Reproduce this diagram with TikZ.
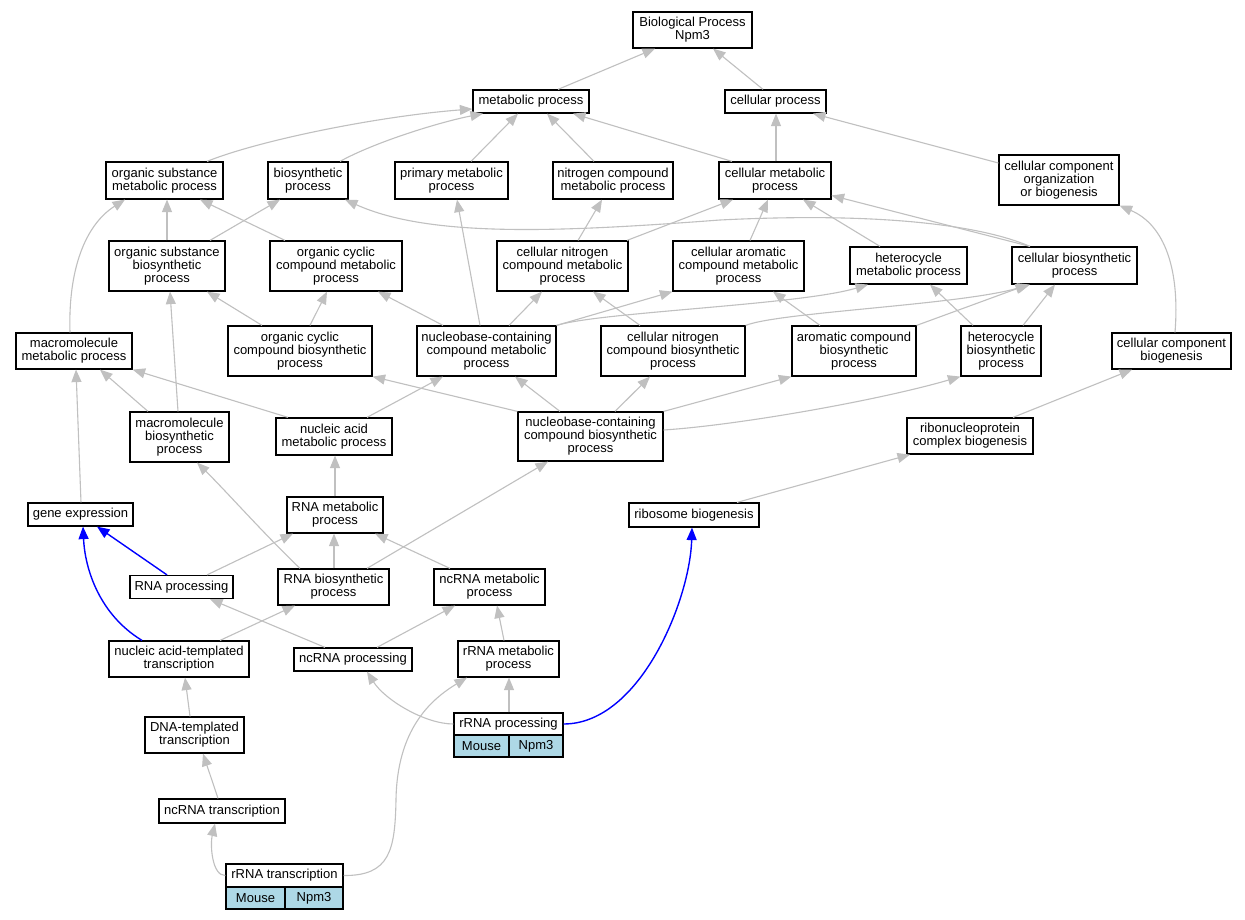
\documentclass[tikz,border=0pt]{standalone}
\usepackage{fontspec}
\setmainfont{Liberation Sans}
\usetikzlibrary{arrows.meta}
\definecolor{edgegray}{RGB}{192,192,192}
\definecolor{cellblue}{RGB}{173,216,230}
\newcommand\gnode[6]{\node[box, minimum width=#4pt, minimum height=#5pt] (#1) at (#2,#3) {#6};}
\newcommand\gcell[5]{\node[box, fill=cellblue, minimum width=#4pt, minimum height=22pt] (#1) at (#2,#3) {#5};}
\begin{document}
\begin{tikzpicture}[x=1pt,y=-1pt,
  box/.style={draw=black, line width=1.2pt, fill=white, inner sep=0pt, align=center, font=\fontsize{13}{13}\selectfont},
  edge/.style={draw=edgegray, line width=1.1pt, -{Triangle[length=12.5pt,width=10pt]}},
  bedge/.style={draw=blue, line width=1.4pt, -{Triangle[length=12.5pt,width=10pt]}}]
\fill[white] (0,0) rectangle (1245,920);
\useasboundingbox (0,0) rectangle (1245,920);
% nodes
\gnode{bp}{692.5}{30}{119}{36}{Biological Process\\Npm3}
\gnode{met}{531}{101.5}{116}{23}{metabolic process}
\gnode{cel}{775.5}{101.5}{101}{23}{cellular process}
\gnode{osm}{164.5}{180.5}{117}{37}{organic substance\\metabolic process}
\gnode{bio}{308}{180.5}{80}{37}{biosynthetic\\process}
\gnode{pri}{451.5}{180.5}{113}{37}{primary metabolic\\process}
\gnode{ncm}{613}{180.5}{120}{37}{nitrogen compound\\metabolic process}
\gnode{cmp}{775}{180.5}{112}{37}{cellular metabolic\\process}
\gnode{cco}{1059}{180}{120}{50}{cellular component\\organization\\or biogenesis}
\gnode{osb}{167}{266}{116}{50}{organic substance\\biosynthetic\\process}
\gnode{occm}{336}{266}{132}{50}{organic cyclic\\compound metabolic\\process}
\gnode{cncm}{562.5}{266}{131}{50}{cellular nitrogen\\compound metabolic\\process}
\gnode{cacm}{738.5}{266}{131}{50}{cellular aromatic\\compound metabolic\\process}
\gnode{hmp}{908.5}{265.5}{117}{37}{heterocycle\\metabolic process}
\gnode{cbp}{1074.5}{265.5}{125}{37}{cellular biosynthetic\\process}
\gnode{mmp}{74}{351}{116}{36}{macromolecule\\metabolic process}
\gnode{occb}{300}{351}{144}{50}{organic cyclic\\compound biosynthetic\\process}
\gnode{nbcm}{486.5}{351}{139}{50}{nucleobase-containing\\compound metabolic\\process}
\gnode{cncb}{673}{351}{144}{50}{cellular nitrogen\\compound biosynthetic\\process}
\gnode{acb}{854}{351}{124}{50}{aromatic compound\\biosynthetic\\process}
\gnode{hbp}{1001}{351}{80}{50}{heterocycle\\biosynthetic\\process}
\gnode{ccb}{1171.5}{351}{119}{36}{cellular component\\biogenesis}
\gnode{mbp}{179.5}{437}{99}{50}{macromolecule\\biosynthetic\\process}
\gnode{nam}{334}{436.5}{116}{37}{nucleic acid\\metabolic process}
\gnode{nbcb}{590.5}{436.5}{145}{49}{nucleobase-containing\\compound biosynthetic\\process}
\gnode{rnp}{970}{436}{126}{36}{ribonucleoprotein\\complex biogenesis}
\gnode{gex}{80.5}{514.5}{105}{23}{gene expression}
\gnode{rnam}{335}{515}{96}{36}{RNA metabolic\\process}
\gnode{ribo}{694}{515}{130}{24}{ribosome biogenesis}
\gnode{rnap}{181.5}{587}{103}{23}{RNA processing}
\gnode{rnab}{333.5}{587}{111}{36}{RNA biosynthetic\\process}
\gnode{ncrm}{489.5}{587}{111}{36}{ncRNA metabolic\\process}
\gnode{natt}{179}{659}{140}{36}{nucleic acid-templated\\transcription}
\gnode{ncrp}{353}{659.5}{118}{23}{ncRNA processing}
\gnode{rrm}{508.5}{659}{101}{36}{rRNA metabolic\\process}
\gnode{rrp}{508.5}{724}{109}{22}{rRNA processing}
\gcell{rrpa}{481.5}{746}{55}{Mouse}
\gcell{rrpb}{536}{746}{54}{Npm3}
\gnode{dnat}{194.5}{735}{99}{36}{DNA-templated\\transcription}
\gnode{ncrt}{222}{811}{126}{24}{ncRNA transcription}
\gnode{rrt}{284.5}{875.5}{117}{23}{rRNA transcription}
\gcell{rrta}{255.5}{898}{59}{Mouse}
\gcell{rrtb}{314}{898}{58}{Npm3}
% edges
\draw[edge] ([xshift=27pt]met.north) -- ([xshift=-37.5pt]bp.south);
\draw[edge] ([xshift=-12.5pt]cel.north) -- ([xshift=20.5pt]bp.south);
\draw[edge] ([xshift=42.5pt]osm.north) .. controls (260,140) and (380,116) .. ([yshift=-7.5pt]met.west);
\draw[edge] ([xshift=32pt]bio.north) .. controls (375,142) and (440,122) .. ([xshift=-48pt]met.south);
\draw[edge] ([xshift=19.5pt]pri.north) -- ([xshift=-13pt]met.south);
\draw[edge] ([xshift=-19pt]ncm.north) -- ([xshift=16pt]met.south);
\draw[edge] ([xshift=-43pt]cmp.north) -- ([xshift=42pt]met.south);
\draw[edge] ([xshift=1pt]cmp.north) -- ([xshift=0.5pt]cel.south);
\draw[edge] ([yshift=17pt]cco.west) -- ([xshift=37.5pt]cel.south);
\draw[edge] (osb.north) -- ([xshift=2.5pt]osm.south);
\draw[edge] ([xshift=43pt]osb.north) -- ([xshift=-28pt]bio.south);
\draw[edge] ([xshift=-51pt]occm.north) -- ([xshift=35.5pt]osm.south);
\draw[edge] ([xshift=-4pt]mmp.north) .. controls (68,270) and (85,225) .. ([xshift=-39.5pt]osm.south);
\draw[edge] ([xshift=-44.5pt]cbp.north) .. controls (980,225) and (880,212) .. (720,220) .. controls (560,232) and (430,238) .. ([xshift=37pt]bio.south);
\draw[edge] ([xshift=-44.5pt]cbp.north) -- ([yshift=-15pt]cmp.east);
\draw[edge] ([xshift=-6.5pt]nbcm.north) -- ([xshift=5.5pt]pri.south);
\draw[edge] ([xshift=15.5pt]cncm.north) -- ([xshift=-11pt]ncm.south);
\draw[edge] ([xshift=64.5pt]cncm.north) -- ([xshift=-42pt]cmp.south);
\draw[edge] ([xshift=11.5pt]cacm.north) -- ([xshift=-7pt]cmp.south);
\draw[edge] ([xshift=-28.5pt]hmp.north) -- ([xshift=28pt]cmp.south);
\draw[edge] ([xshift=3.5pt]ccb.north) .. controls (1180,270) and (1165,225) .. (cco.south east);
\draw[edge] ([xshift=-38pt]occb.north) -- ([xshift=40pt]osb.south);
\draw[edge] ([xshift=10pt]occb.north) -- ([xshift=-9pt]occm.south);
\draw[edge] ([xshift=-43.5pt]nbcm.north) -- ([xshift=42pt]occm.south);
\draw[edge] ([xshift=22.5pt]nbcm.north) -- ([xshift=-20.5pt]cncm.south);
\draw[edge] (nbcm.north east) -- (cacm.south west);
\draw[edge] (nbcm.north east) .. controls (600,312) and (800,305) .. ([xshift=-40.5pt]hmp.south);
\draw[edge] ([xshift=-33pt]cncb.north) -- ([xshift=30.5pt]cncm.south);
\draw[edge] (cncb.north east) .. controls (780,312) and (960,305) .. ([xshift=-44.5pt]cbp.south);
\draw[edge] ([xshift=-34pt]acb.north) -- ([xshift=34.5pt]cacm.south);
\draw[edge] (acb.north east) -- ([xshift=-46.5pt]cbp.south);
\draw[edge] ([xshift=-28pt]hbp.north) -- ([xshift=21.5pt]hmp.south);
\draw[edge] ([xshift=22pt]hbp.north) -- ([xshift=-19.5pt]cbp.south);
\draw[edge] ([xshift=-31.5pt]mbp.north) -- ([xshift=26pt]mmp.south);
\draw[edge] ([xshift=-1.5pt]mbp.north) -- ([xshift=3pt]osb.south);
\draw[edge] ([xshift=-46pt]nam.north) -- (mmp.south east);
\draw[edge] ([xshift=33pt]nam.north) -- ([xshift=-43.5pt]nbcm.south);
\draw[edge] (nbcb.north west) -- (occb.south east);
\draw[edge] ([xshift=-30.5pt]nbcb.north) -- ([xshift=28.5pt]nbcm.south);
\draw[edge] ([xshift=24.5pt]nbcb.north) -- ([xshift=-23pt]cncb.south);
\draw[edge] (nbcb.north east) -- (acb.south west);
\draw[edge] ([yshift=6.5pt]nbcb.east) .. controls (740,425) and (880,400) .. (hbp.south west);
\draw[edge] ([xshift=43pt]rnp.north) -- ([xshift=-39.5pt]ccb.south);
\draw[edge] ([xshift=0.5pt]gex.north) -- ([xshift=2pt]mmp.south);
\draw[edge] (rnam.north) -- ([xshift=1pt]nam.south);
\draw[edge] ([xshift=43pt]ribo.north) -- ([xshift=-60pt]rnp.south);
\draw[bedge] ([xshift=-14.5pt]rnap.north) -- ([xshift=16.5pt]gex.south);
\draw[edge] ([xshift=25.5pt]rnap.north) -- ([xshift=-42pt]rnam.south);
\draw[edge] ([xshift=0.5pt]rnab.north) -- ([xshift=-1pt]rnam.south);
\draw[edge] ([xshift=-33.5pt]rnab.north) .. controls (265,535) and (225,490) .. ([xshift=17.5pt]mbp.south);
\draw[edge] ([xshift=33.5pt]rnab.north) -- ([xshift=-42.5pt]nbcb.south);
\draw[edge] ([xshift=-39.5pt]ncrm.north) -- ([xshift=40pt]rnam.south);
\draw[bedge] ([xshift=-37pt]natt.north) .. controls (100,615) and (85,570) .. ([xshift=2.5pt]gex.south);
\draw[edge] ([xshift=41pt]natt.north) -- ([xshift=-38.5pt]rnab.south);
\draw[edge] ([xshift=-28pt]ncrp.north) -- ([xshift=28.5pt]rnap.south);
\draw[edge] ([xshift=24pt]ncrp.north) -- ([xshift=-34.5pt]ncrm.south);
\draw[edge] ([xshift=-4.5pt]rrm.north) -- ([xshift=7.5pt]ncrm.south);
\draw[edge] (rrp.west) .. controls (425,724) and (385,700) .. ([xshift=14pt]ncrp.south);
\draw[edge] ([xshift=0.5pt]rrp.north) -- ([xshift=0.5pt]rrm.south);
\draw[bedge] (rrp.east) .. controls (640,724) and (690,600) .. ([xshift=-2pt]ribo.south);
\draw[edge] ([xshift=-4.5pt]dnat.north) -- ([xshift=6pt]natt.south);
\draw[edge] ([xshift=-4pt]ncrt.north) -- ([xshift=8.5pt]dnat.south);
\draw[edge] (rrt.west) .. controls (212,876) and (210,845) .. ([xshift=-7pt]ncrt.south);
\draw[edge] (rrt.east) .. controls (390,876) and (395,850) .. (396,800) .. controls (397,730) and (430,700) .. ([xshift=-41.5pt]rrm.south);
\end{tikzpicture}
\end{document}
